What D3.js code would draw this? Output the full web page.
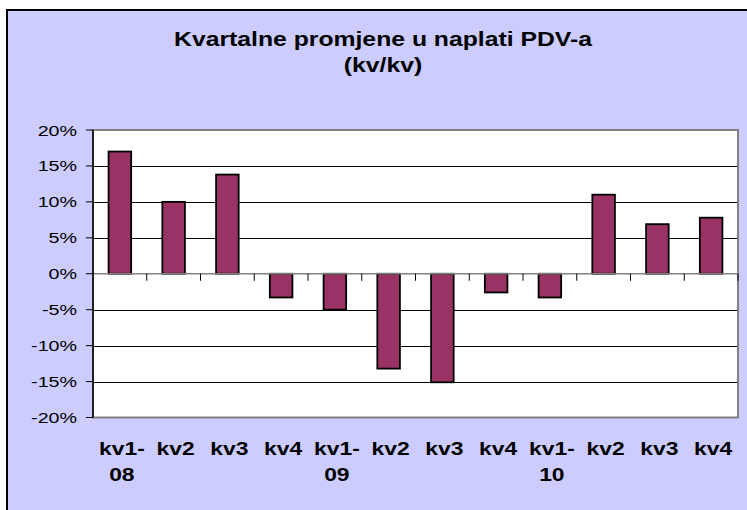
<!DOCTYPE html>
<html>
<head>
<meta charset="utf-8">
<script src="https://cdn.jsdelivr.net/npm/d3@7"></script>
<style>
  html, body { margin: 0; padding: 0; background: #ffffff; }
  svg { display: block; }
</style>
</head>
<body>
<svg id="chart" width="747" height="510"></svg>
<script>
// ---- data ----
const titleLines = ["Kvartalne promjene u naplati PDV-a", "(kv/kv)"];
const categories = ["kv1-\n08", "kv2", "kv3", "kv4", "kv1-\n09", "kv2", "kv3", "kv4", "kv1-\n10", "kv2", "kv3", "kv4"];
const values = [17.0, 10.0, 13.8, -3.3, -5.0, -13.2, -15.1, -2.6, -3.3, 11.0, 6.9, 7.8];
const yTicks = [20, 15, 10, 5, 0, -5, -10, -15, -20];
const yTickLabels = ["20%", "15%", "10%", "5%", "0%", "-5%", "-10%", "-15%", "-20%"];

// ---- layout ----
const W = 747, H = 510;
const SX = 1.27; // horizontal text stretch seen in the reference
const plot = { left: 93, right: 738, top: 130, bottom: 417.5 };
const FONT = "'Liberation Sans', Arial, Helvetica, sans-serif";

const svg = d3.select("#chart");

// outer frame
svg.append("rect").attr("x", 7).attr("y", 10).attr("width", W + 20).attr("height", H + 20)
  .attr("fill", "#ccccff").attr("stroke", "#000").attr("stroke-width", 2);

const x = d3.scaleBand().domain(d3.range(categories.length))
  .range([plot.left, plot.right]).paddingInner(0.58).paddingOuter(0.29);
const y = d3.scaleLinear().domain([-20, 20]).range([plot.bottom, plot.top]);

function stretchedText(parent, px, py, str, size, weight, anchor) {
  return parent.append("text")
    .attr("transform", `translate(${px},${py}) scale(${SX},1)`)
    .attr("font-family", FONT).attr("font-size", size).attr("font-weight", weight)
    .attr("text-anchor", anchor).attr("fill", "#000").text(str);
}

// plot background
svg.append("rect").attr("x", plot.left).attr("y", plot.top)
  .attr("width", plot.right - plot.left).attr("height", plot.bottom - plot.top)
  .attr("fill", "#ffffff");

// gridlines
svg.append("g").selectAll("line").data(yTicks.filter(t => t !== 0 && t !== 20 && t !== -20)).join("line")
  .attr("x1", plot.left).attr("x2", plot.right)
  .attr("y1", d => Math.round(y(d)) + 0.5).attr("y2", d => Math.round(y(d)) + 0.5)
  .attr("stroke", "#000").attr("stroke-width", 1);

// plot border (grey)
svg.append("rect").attr("x", plot.left).attr("y", plot.top)
  .attr("width", plot.right - plot.left).attr("height", plot.bottom - plot.top)
  .attr("fill", "none").attr("stroke", "#808080").attr("stroke-width", 2);

// bars
svg.append("g").selectAll("rect").data(values).join("rect")
  .attr("x", (d, i) => x(i))
  .attr("width", x.bandwidth())
  .attr("y", d => y(Math.max(0, d)))
  .attr("height", d => Math.abs(y(d) - y(0)))
  .attr("fill", "#993366").attr("stroke", "#000").attr("stroke-width", 1.8);

// zero axis line with category boundary ticks
const zeroY = y(0);
svg.append("line").attr("x1", plot.left).attr("x2", plot.right)
  .attr("y1", zeroY).attr("y2", zeroY).attr("stroke", "#808080").attr("stroke-width", 1.5);
const step = x.step();
const bandStart = x(0) - x.paddingOuter() * step;
svg.append("g").selectAll("line").data(d3.range(1, categories.length + 1)).join("line")
  .attr("x1", i => bandStart + i * step)
  .attr("x2", i => bandStart + i * step)
  .attr("y1", zeroY).attr("y2", zeroY + 7)
  .attr("stroke", "#000").attr("stroke-width", 1);

// y axis line and ticks
svg.append("line").attr("x1", plot.left).attr("x2", plot.left)
  .attr("y1", plot.top).attr("y2", plot.bottom).attr("stroke", "#000").attr("stroke-width", 1.5);
svg.append("g").selectAll("line").data(yTicks).join("line")
  .attr("x1", plot.left - 7).attr("x2", plot.left)
  .attr("y1", d => y(d)).attr("y2", d => y(d))
  .attr("stroke", "#000").attr("stroke-width", 1);

// y tick labels
const yl = svg.append("g");
yTicks.forEach((t, i) => {
  stretchedText(yl, 77, y(t) + 5.5, yTickLabels[i], 15.5, "normal", "end");
});

// x labels
const xl = svg.append("g");
categories.forEach((c, i) => {
  const cx = x(i) + x.bandwidth() / 2 + 2;
  c.split("\n").forEach((line, k) => {
    stretchedText(xl, cx, 455 + k * 26, line, 18, "bold", "middle");
  });
});

// title
const tg = svg.append("g");
titleLines.forEach((line, k) => {
  stretchedText(tg, 383, 46 + k * 26, line, 19.5, "bold", "middle");
});
</script>
</body>
</html>
